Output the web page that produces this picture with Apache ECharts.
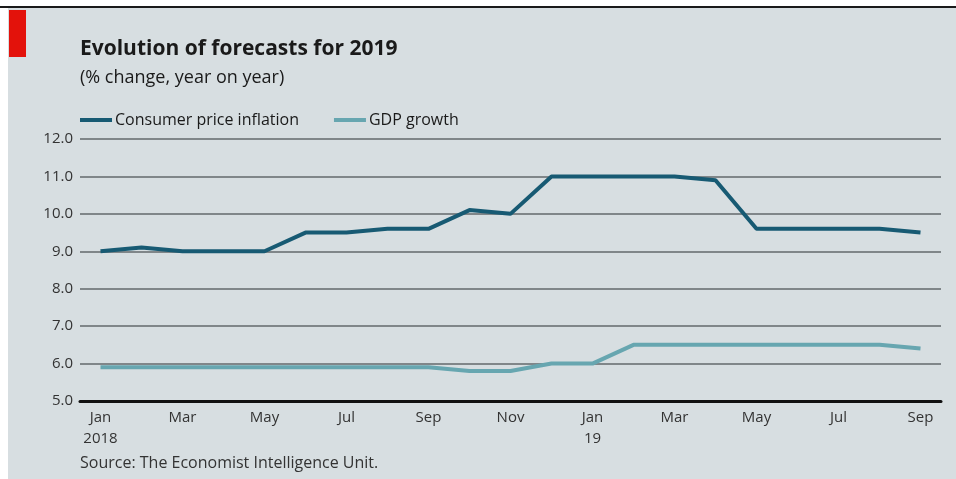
<!DOCTYPE html>
<html>
<head>
<meta charset="utf-8">
<style>
  html, body { margin: 0; padding: 0; background: #ffffff; }
  #chart { width: 956px; height: 479px; }
</style>
<script src="https://cdn.jsdelivr.net/npm/echarts@6/dist/echarts.min.js"></script>
</head>
<body>
<div id="chart"></div>
<script>
// months, Jan 2018 - Sep 2019
const months = ['Jan\n2018', 'Feb', 'Mar', 'Apr', 'May', 'Jun', 'Jul', 'Aug', 'Sep', 'Oct', 'Nov', 'Dec',
  'Jan\n19', 'Feb', 'Mar', 'Apr', 'May', 'Jun', 'Jul', 'Aug', 'Sep']
// forecasts for 2019, % change year on year
const cpi = [9.0, 9.1, 9.0, 9.0, 9.0, 9.5, 9.5, 9.6, 9.6, 10.1, 10.0, 11.0,
  11.0, 11.0, 11.0, 10.9, 9.6, 9.6, 9.6, 9.6, 9.5]
const gdp = [5.9, 5.9, 5.9, 5.9, 5.9, 5.9, 5.9, 5.9, 5.9, 5.8, 5.8, 6.0,
  6.0, 6.5, 6.5, 6.5, 6.5, 6.5, 6.5, 6.5, 6.4]

const font = '"Open Sans", "Noto Sans", sans-serif'
const chart = echarts.init(document.getElementById('chart'))

const option = {
  backgroundColor: '#ffffff',
  textStyle: { fontFamily: font },
  graphic: [
    // panel background
    { type: 'rect', shape: { x: 8, y: 8, width: 948, height: 471 }, style: { fill: '#d7dee1' }, z: -10 },
    // top rule
    { type: 'rect', shape: { x: 0, y: 6, width: 956, height: 2 }, style: { fill: '#1a1a1a' } },
    // red tag
    { type: 'rect', shape: { x: 9, y: 10, width: 17, height: 47 }, style: { fill: '#e3120b' } },
    {
      type: 'text', left: 80, top: 455,
      style: { text: 'Source: The Economist Intelligence Unit.', fill: '#333', font: '16px ' + font }
    }
  ],
  title: {
    text: 'Evolution of forecasts for 2019',
    subtext: '(% change, year on year)',
    left: 75,
    top: 34,
    itemGap: 9,
    textStyle: { fontSize: 21, fontWeight: 'bold', color: '#1a1a1a', fontFamily: font },
    subtextStyle: { fontSize: 18, color: '#1a1a1a', fontFamily: font }
  },
  legend: {
    left: 75,
    top: 107,
    itemWidth: 32,
    itemHeight: 4,
    itemGap: 35,
    icon: 'rect',
    textStyle: { fontSize: 16, color: '#1a1a1a', padding: [0, 0, 0, -2] },
    data: ['Consumer price inflation', 'GDP growth']
  },
  grid: {
    left: 80,
    right: 15,
    top: 139,
    bottom: 78,
    containLabel: false
  },
  xAxis: {
    type: 'category',
    data: months,
    boundaryGap: true,
    axisLine: { show: true, lineStyle: { color: '#111', width: 3 } },
    axisTick: { show: false },
    axisLabel: {
      interval: 1,
      color: '#333',
      fontSize: 15,
      margin: 6,
      lineHeight: 21
    }
  },
  yAxis: {
    type: 'value',
    min: 5,
    max: 12,
    interval: 1,
    axisLine: { show: false },
    axisTick: { show: false },
    axisLabel: {
      color: '#333',
      fontSize: 15,
      margin: 7,
      formatter: v => v.toFixed(1)
    },
    splitLine: { lineStyle: { color: '#808689', width: 2 } }
  },
  series: [
    {
      name: 'Consumer price inflation',
      type: 'line',
      data: cpi,
      symbol: 'none',
      color: '#175a73',
      lineStyle: { width: 4, color: '#175a73' },
      z: 3
    },
    {
      name: 'GDP growth',
      type: 'line',
      data: gdp,
      symbol: 'none',
      color: '#67a6b0',
      lineStyle: { width: 4, color: '#67a6b0' },
      z: 2
    }
  ]
}
chart.setOption(option)
</script>
</body>
</html>
